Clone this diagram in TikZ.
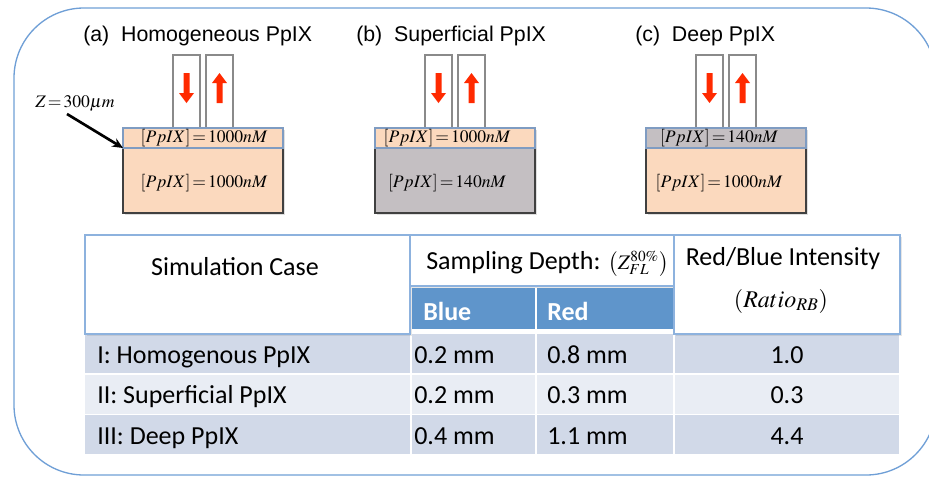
\documentclass[tikz,border=0pt]{standalone}
\usepackage{mathptmx}
\usepackage[no-math]{fontspec}
\setmainfont{Liberation Sans}
\newfontfamily\tabfont{Carlito}
\usetikzlibrary{arrows.meta,shadows}

\definecolor{frameblue}{HTML}{6F9FD6}
\definecolor{peach}{HTML}{FBD9BE}
\definecolor{pgray}{HTML}{C4BFC2}
\definecolor{probegray}{HTML}{8A8A8A}
\definecolor{beamred}{HTML}{FF2A00}
\definecolor{headblue}{HTML}{5F95CB}
\definecolor{cellline}{HTML}{8DB2DE}
\definecolor{rowdark}{HTML}{D1D9E8}
\definecolor{rowlight}{HTML}{E9EDF4}
\definecolor{layeredge}{HTML}{7F9CC2}

\tikzset{
  frame/.style={draw=frameblue, line width=1pt, rounded corners=52.5pt},
  probe/.style={draw=probegray, line width=1.8pt, fill=white},
  beam/.style={fill=beamred},
  tissue/.style={draw=black!75, line width=0.9pt,
    drop shadow={shadow xshift=1.2pt, shadow yshift=-1.2pt, opacity=.25}},
  layer/.style={draw=layeredge, line width=0.9pt},
  conc/.style={font=\fontsize{13.2}{15}\selectfont, inner sep=0pt},
  title/.style={font=\fontsize{16}{19}\selectfont, inner sep=0pt},
  zarrow/.style={-{Stealth[length=8pt,width=7pt]}, line width=2pt},
  tabtxt/.style={font=\tabfont\fontsize{19.5}{22}\selectfont, inner sep=0pt},
  headtxt/.style={font=\tabfont\bfseries\fontsize{19.5}{22}\selectfont, text=white, inner sep=0pt},
  headcell/.style={draw=cellline, line width=0.8pt, fill=white,
    drop shadow={shadow xshift=1.2pt, shadow yshift=-1.2pt, opacity=.2}}
}

% probe pair with excitation (down) and collection (up) beams
\newcommand{\probepair}[1]{%
  \draw[probe] (#1-30,55) rectangle (#1-3,128);
  \draw[probe] (#1+3,55) rectangle (#1+30,128);
  \fill[beam] (#1-19.5,73) -- (#1-13.5,73) -- (#1-13.5,93) -- (#1-9,93)
    -- (#1-16.5,103) -- (#1-24,93) -- (#1-19.5,93) -- cycle;
  \fill[beam] (#1+13.5,103) -- (#1+19.5,103) -- (#1+19.5,83) -- (#1+24,83)
    -- (#1+16.5,73) -- (#1+9,83) -- (#1+13.5,83) -- cycle;
}

\begin{document}
\begin{tikzpicture}[x=0.75pt, y=-0.75pt]

\useasboundingbox (0,0) rectangle (929,476);

%% outer frame
\draw[frame] (14,8) rectangle (936,475);

%% titles
\node[title, anchor=base west] (ta) at (83,41) {(a)\ \ Homogeneous PpIX};
\node[title, anchor=base west] (tb) at (356,41) {(b)\ \ Superficial PpIX};
\node[title, anchor=base west] (tc) at (635,41) {(c)\ \ Deep PpIX};

%% tissue models
\foreach \p/\c/\tx/\ctop/\cbot/\ntop/\nbot in
  {a/203/204/peach/peach/1000/1000,
   b/455/447/peach/pgray/1000/140,
   c/726/719/pgray/peach/140/1000}{
  \probepair{\c}
  \draw[tissue, fill=\cbot] (\c-80,128) rectangle (\c+80,213);
  \draw[layer, fill=\ctop] (\c-80,128) rectangle (\c+80,148);
  \coordinate (layer\p) at (\c-80,148);
  \node[conc, anchor=base] (top\p) at (\tx,142) {$[PpIX]\,{=}\,\ntop nM$};
  \node[conc, anchor=base] (bot\p) at (\tx,187) {$[PpIX]\,{=}\,\nbot nM$};
}

%% layer depth
\node[conc, anchor=base west] (zlab) at (35,107) {$Z\,{=}\,300\mu m$};
\coordinate (zstart) at (67,114);
\draw[zarrow] (zstart) -- (layera);

%% table rows
\foreach \n/\y/\fc/\cname/\vblue/\vred/\vratio in
  {1/334/rowdark/I: Homogenous PpIX/0.2/0.8/1.0,
   2/374.5/rowlight/II: Superficial PpIX/0.2/0.3/0.3,
   3/415/rowdark/III: Deep PpIX/0.4/1.1/4.4}{
  \fill[\fc] (85,\y) rectangle (410,\y+39);
  \fill[\fc] (412,\y) rectangle (535,\y+39);
  \fill[\fc] (537,\y) rectangle (673,\y+39);
  \fill[\fc] (675,\y) rectangle (899,\y+39);
  \node[tabtxt, anchor=base west] (case\n) at (97,\y+29) {\cname};
  \node[tabtxt, anchor=base west] (blue\n) at (414,\y+29) {\vblue\ mm};
  \node[tabtxt, anchor=base west] (red\n) at (547,\y+29) {\vred\ mm};
  \node[tabtxt, anchor=base] (ratio\n) at (787,\y+29) {\vratio};
}

%% table header
\fill[headblue] (412,288) rectangle (535,329);
\fill[headblue] (537,288) rectangle (673,329);
\node[headtxt, anchor=base west] (hblue) at (423,320) {Blue};
\node[headtxt, anchor=base west] (hred) at (547,320) {Red};
\draw[headcell] (85,235) rectangle (410,334);
\draw[headcell] (410,235) rectangle (674,286);
\draw[headcell] (674,235) rectangle (900,334);
\node[tabtxt, anchor=base] (hcase) at (235,275) {Simulation Case};
\node[tabtxt, anchor=base west] (hdepth) at (426,269)
  {Sampling Depth: {\fontsize{15.5}{17}\selectfont$\left(Z_{FL}^{80\%}\right)$}};
\node[tabtxt, anchor=base] (hratio) at (783,265) {Red/Blue Intensity};
\node[tabtxt, font=\fontsize{18}{20}\selectfont, anchor=center] (hratiosym) at (781,301)
  {$\left(Ratio_{RB}\right)$};

\end{tikzpicture}
\end{document}
